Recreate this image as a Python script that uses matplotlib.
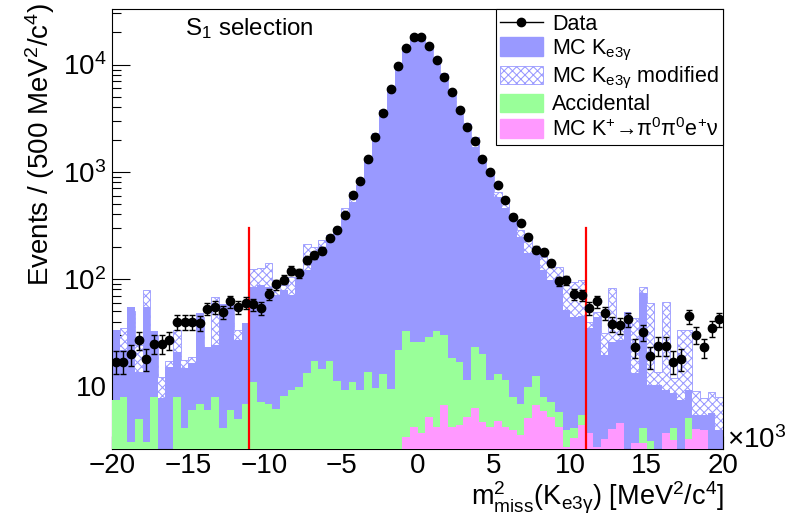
import numpy as np
import matplotlib
matplotlib.use('Agg')
import matplotlib.pyplot as plt
from matplotlib.patches import Patch
from matplotlib.lines import Line2D
from matplotlib.ticker import FixedLocator, FixedFormatter, MultipleLocator, LogLocator, NullFormatter

plt.rcParams['font.family'] = ['Liberation Sans', 'DejaVu Sans']
plt.rcParams['mathtext.default'] = 'regular'
plt.rcParams['hatch.linewidth'] = 0.75

# binning: 80 bins of 500 MeV^2/c^4, x axis in units of 10^3
bin_edges = np.linspace(-20, 20, 81)

data_counts = [
    17, 17, 20, 27, 18, 25, 25, 27, 40, 40,
    40, 39, 53, 55, 49, 62, 55, 60, 58, 54,
    72, 89, 99, 120, 113, 150, 166, 184, 240, 289,
    394, 610, 824, 1303, 2110, 3560, 5930, 9790, 14200, 18000,
    18000, 15060, 10970, 7610, 5590, 3800, 2640, 1920, 1331, 1000,
    751, 547, 382, 336, 245, 188, 178, 140, 95, 97,
    72, 71, 54, 62, 48, 38, 37, 42, 23, 32,
    19, 24, 24, 17, 18, 45, 30, 23, 35, 42]

mc_ke3g = [
    33.4, 21.7, 54.7, 13.5, 54.7, 32.7, 7.7, 15.1, 20.8, 14.7,
    16.4, 48.1, 23.1, 24.2, 58.4, 61, 26.9, 38.8, 84.2, 87.9,
    84.2, 70.8, 78.9, 70.8, 104, 121, 175, 199, 258, 300,
    380, 525, 756, 1295, 2315, 3800, 6230, 10440, 14720, 19050,
    19490, 16070, 11890, 8420, 5840, 4050, 2870, 1713, 1380, 1045,
    583, 461, 380, 247, 175, 175, 121, 97.9, 104, 51.3,
    44.2, 45.1, 34.8, 44.2, 19.5, 25.8, 26.9, 49.2, 13.2, 74,
    10.2, 10.2, 9.2, 8.6, 7.4, 9.2, 5.4, 5.4, 5.6, 3.9]

mc_ke3g_modified = [
    30, 34.8, 50, 24.2, 78.9, 30, 12.1, 17.1, 33.4, 17.5,
    18.7, 44, 21, 67.9, 53, 56, 33.4, 35, 124, 127,
    141, 84.2, 87.9, 104, 95, 212, 199, 231, 250, 290,
    461, 650, 740, 1260, 2250, 3700, 6050, 10150, 14300, 18500,
    18900, 15600, 11550, 8170, 5670, 3930, 2790, 2125, 1340, 1015,
    650, 513, 370, 287, 242, 199, 161, 135, 129, 98,
    93.8, 98, 39.6, 49.2, 31.3, 82.4, 35.6, 45, 43.2, 84.2,
    59.7, 13.5, 61, 11.9, 33.4, 33.4, 9.0, 7.7, 8.8, 7.9]

accidental = [
    7.4, 7.9, 3.0, 5.0, 3.0, 7.9, 0, 0, 7.9, 4.05,
    6.0, 6.9, 6.0, 7.9, 4.05, 6.0, 5.0, 6.9, 10.9, 7.2,
    6.9, 6.1, 8.2, 9.2, 9.8, 13.2, 17.1, 14.4, 17.1, 11.1,
    9.2, 10.9, 9.2, 13.5, 9.6, 12.9, 9.4, 21.7, 32.7, 25.8,
    25.8, 28.7, 32.7, 30, 18.3, 16.7, 11.4, 23.1, 19.9, 11.4,
    12.9, 11.4, 7.9, 6.9, 9.8, 12.4, 7.9, 7.1, 5.7, 3.9,
    4.05, 5.4, 0, 0, 0, 0, 0, 0, 0, 4.05,
    3.06, 0, 0, 4.05, 0, 5.1, 0, 0, 0, 0]

mc_pi0pi0 = [
    0, 0, 0, 0, 0, 0, 0, 0, 0, 0,
    0, 0, 0, 0, 0, 0, 0, 0, 0, 0,
    0, 0, 0, 0, 0, 0, 0, 0, 0, 0,
    0, 0, 0, 0, 0, 0, 0, 0, 3.33, 4.14,
    3.64, 5.13, 4.14, 6.64, 4.14, 4.32, 5.13, 6.23, 4.61, 4.14,
    4.71, 4.14, 3.88, 3.48, 5.02, 6.64, 5.84, 5.13, 4.14, 2.69,
    3.27, 4.32, 3.64, 2.69, 3.2, 3.96, 4.51, 0, 2.93, 2.93,
    0, 0, 3.64, 3.13, 0, 3.2, 3.96, 3.88, 0, 0]

cut_values = [-11, 11]
cut_top = 300
y_min, y_max = 2.6, 33000

c_blue = '#9999ff'
c_green = '#99ff99'
c_pink = '#ff99ff'
c_hatch = '#9999ff'


def floor_log(vals):
    # empty bins go below the visible range on a log axis
    return np.clip(np.asarray(vals, dtype=float), 1.0, None)


fig = plt.figure(figsize=(7.87, 5.18), dpi=100)
ax = fig.add_axes([112/787, 69/518, 611/787, 440/518])
ax.set_yscale('log')

ax.stairs(floor_log(mc_ke3g_modified), bin_edges, baseline=1.0, fill=True,
          facecolor='white', edgecolor=c_hatch, hatch='xxxx', linewidth=0.6, zorder=1)
ax.stairs(floor_log(mc_ke3g), bin_edges, baseline=1.0, fill=True,
          color=c_blue, linewidth=0, zorder=2)
ax.stairs(floor_log(accidental), bin_edges, baseline=1.0, fill=True,
          color=c_green, linewidth=0, zorder=3)
ax.stairs(floor_log(mc_pi0pi0), bin_edges, baseline=1.0, fill=True,
          color=c_pink, linewidth=0, zorder=4)

for xc in cut_values:
    ax.plot([xc, xc], [y_min, cut_top], color='red', lw=1.6, zorder=5)

centers = 0.5 * (bin_edges[:-1] + bin_edges[1:])
counts = np.asarray(data_counts, dtype=float)
ax.errorbar(centers, counts, yerr=np.sqrt(counts), fmt='o', color='black',
            ms=6, elinewidth=1.0, capsize=2.2, capthick=1.0, zorder=6)

ax.set_xlim(-20, 20)
ax.set_ylim(y_min, y_max)

ax.xaxis.set_major_locator(MultipleLocator(5))
ax.xaxis.set_minor_locator(MultipleLocator(1))
ax.xaxis.set_major_formatter(plt.FuncFormatter(lambda v, _: f'{v:g}'.replace('-', '\u2212')))
ax.yaxis.set_major_locator(FixedLocator([10, 100, 1000, 10000]))
ax.yaxis.set_major_formatter(FixedFormatter(['10', '$10^{2}$', '$10^{3}$', '$10^{4}$']))
ax.yaxis.set_minor_locator(LogLocator(base=10, subs=np.arange(2, 10)))
ax.yaxis.set_minor_formatter(NullFormatter())

ax.tick_params(axis='x', which='major', direction='in', length=9.5, width=0.8,
               top=False, labelsize=20, pad=3)
ax.tick_params(axis='x', which='minor', direction='in', length=4.8, width=0.8, top=False)
ax.tick_params(axis='y', which='major', direction='in', length=13, width=0.8,
               right=False, labelsize=20, pad=4)
ax.tick_params(axis='y', which='minor', direction='in', length=6.5, width=0.8, right=False)
for sp in ax.spines.values():
    sp.set_linewidth(0.8)

ax.text(0.119, 0.955, 'S$_{1}$ selection', transform=ax.transAxes,
        fontsize=17.4, ha='left', va='center')

fig.text(40/787, 1 - 3/518, 'Events / (500 MeV$^{2}$/c$^{4}$)', rotation=90,
         ha='center', va='top', fontsize=20)
fig.text(724/787, 1 - 498/518, 'm$^{2}_{miss}$(K$_{e3γ}$) [MeV$^{2}$/c$^{4}$]',
         ha='right', va='center', fontsize=19.5)
fig.text(727/787, 1 - 448/518, '×10$^{3}$', ha='left', va='baseline', fontsize=20)

handles = [
    Line2D([0], [0], color='black', marker='o', ms=6, lw=1),
    Patch(facecolor=c_blue, edgecolor=c_blue),
    Patch(facecolor='white', edgecolor=c_hatch, hatch='xxxx', linewidth=0.6),
    Patch(facecolor=c_green, edgecolor=c_green),
    Patch(facecolor=c_pink, edgecolor=c_pink),
]
labels = ['Data', 'MC K$_{e3γ}$', 'MC K$_{e3γ}$ modified', 'Accidental',
          'MC K$^{+}$→π$^{0}$π$^{0}$e$^{+}$ν']
leg = ax.legend(handles, labels, loc='upper right', bbox_to_anchor=(1, 1),
                borderaxespad=0, fontsize=15.5, frameon=True, fancybox=False,
                edgecolor='black', framealpha=1, handlelength=2.0, handleheight=0.93,
                handletextpad=0.42, labelspacing=0.12, borderpad=0.2)
leg.get_frame().set_linewidth(0.8)
leg.set_zorder(10)

fig.savefig('out.png', dpi=100)
